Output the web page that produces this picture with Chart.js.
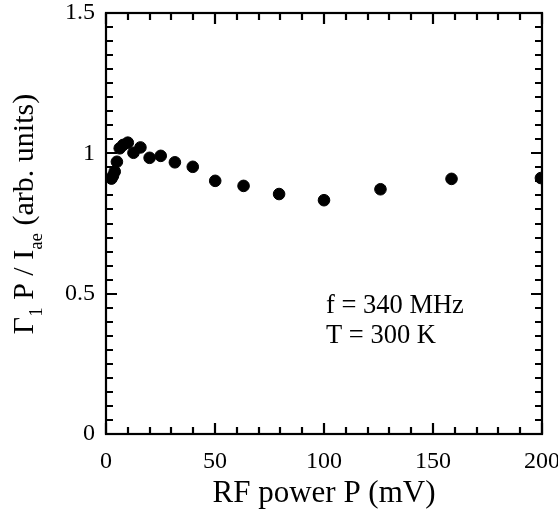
<!DOCTYPE html>
<html>
<head>
<meta charset="utf-8">
<script src="https://cdn.jsdelivr.net/npm/chart.js@4/dist/chart.umd.min.js"></script>
<style>
html,body{margin:0;padding:0;background:#fff;}
#wrap{width:558px;height:514px;}
</style>
</head>
<body>
<div id="wrap"><canvas id="c" width="558" height="514"></canvas></div>
<script>
const powerP = [2.5, 3.2, 4.0, 5.0, 6.3, 7.9, 10.0, 12.6, 15.8, 20.0, 25.1, 31.6, 39.8, 50.1, 63.1, 79.4, 100.0, 125.9, 158.5, 199.5];
const gammaRatio = [0.910, 0.920, 0.935, 0.970, 1.018, 1.030, 1.038, 1.002, 1.021, 0.984, 0.991, 0.968, 0.952, 0.902, 0.884, 0.855, 0.833, 0.872, 0.909, 0.912];
const xTicks = [0, 50, 100, 150, 200];
const yTicks = [0, 0.5, 1, 1.5];
const annotLines = ["f = 340 MHz", "T = 300 K"];

const SERIF = '"Liberation Serif", "DejaVu Serif", serif';

const framePlugin = {
  id: 'frame',
  afterDraw(chart) {
    const ctx = chart.ctx;
    const a = chart.chartArea;
    const xs = chart.scales.x, ys = chart.scales.y;
    ctx.save();
    ctx.strokeStyle = '#000';
    ctx.lineWidth = 2.2;
    ctx.strokeRect(a.left, a.top, a.right - a.left, a.bottom - a.top);
    for (let v = 0; v <= 200; v += 10) {
      const px = Math.round(xs.getPixelForValue(v));
      const len = (v % 50 === 0) ? 11 : 7;
      ctx.beginPath();
      ctx.moveTo(px, a.bottom); ctx.lineTo(px, a.bottom - len);
      ctx.moveTo(px, a.top); ctx.lineTo(px, a.top + len);
      ctx.stroke();
    }
    for (let i = 0; i <= 30; i++) {
      const v = i * 0.05;
      const py = Math.round(ys.getPixelForValue(v));
      const len = (i % 10 === 0) ? 11 : 7;
      ctx.beginPath();
      ctx.moveTo(a.left, py); ctx.lineTo(a.left + len, py);
      ctx.moveTo(a.right, py); ctx.lineTo(a.right - len, py);
      ctx.stroke();
    }
    ctx.fillStyle = '#000';
    ctx.font = '26.5px ' + SERIF;
    ctx.textAlign = 'left';
    ctx.textBaseline = 'alphabetic';
    ctx.fillText(annotLines[0], 326, 313);
    ctx.fillText(annotLines[1], 326, 343);
    ctx.translate(33, 214);
    ctx.rotate(-Math.PI / 2);
    const parts = [
      {t: 'Γ', s: 30, dy: 0},
      {t: '1', s: 19, dy: 9},
      {t: ' P / I', s: 30, dy: 0},
      {t: 'ae', s: 19, dy: 9},
      {t: ' (arb. units)', s: 30, dy: 0}
    ];
    let total = 0;
    parts.forEach(p => { ctx.font = p.s + 'px ' + SERIF; p.w = ctx.measureText(p.t).width; total += p.w; });
    let x = -total / 2;
    parts.forEach(p => {
      ctx.font = p.s + 'px ' + SERIF;
      ctx.fillText(p.t, x, p.dy);
      x += p.w;
    });
    ctx.restore();
  }
};

function zeroPad(s) { s.paddingTop = 0; s.paddingBottom = 0; s.paddingLeft = 0; s.paddingRight = 0; }

new Chart(document.getElementById('c'), {
  type: 'scatter',
  data: {
    datasets: [{
      data: powerP.map((p, i) => ({x: p, y: gammaRatio[i]})),
      backgroundColor: '#000',
      borderColor: '#000',
      pointRadius: 5.8,
      pointHoverRadius: 5.8
    }]
  },
  options: {
    responsive: false,
    animation: false,
    devicePixelRatio: 1,
    layout: {padding: {top: 13, right: 16, left: 0, bottom: 0}},
    plugins: {legend: {display: false}, tooltip: {enabled: false}},
    scales: {
      x: {
        type: 'linear', min: 0, max: 200,
        grid: {display: false, drawTicks: false},
        border: {display: false},
        afterBuildTicks: s => { s.ticks = xTicks.map(v => ({value: v})); },
        afterFit: s => { s.height = 80; zeroPad(s); },
        ticks: {color: '#000', padding: 13, maxRotation: 0, font: {family: SERIF, size: 24}},
        title: {display: true, text: 'RF power P (mV)', color: '#000', padding: {top: 0, bottom: 2}, font: {family: SERIF, size: 31}}
      },
      y: {
        type: 'linear', min: 0, max: 1.5,
        grid: {display: false, drawTicks: false},
        border: {display: false},
        afterBuildTicks: s => { s.ticks = yTicks.map(v => ({value: v})); },
        afterFit: s => { s.width = 106; zeroPad(s); },
        ticks: {color: '#000', padding: 11, font: {family: SERIF, size: 24}, callback: v => String(v)}
      }
    }
  },
  plugins: [framePlugin]
});
</script>
</body>
</html>
